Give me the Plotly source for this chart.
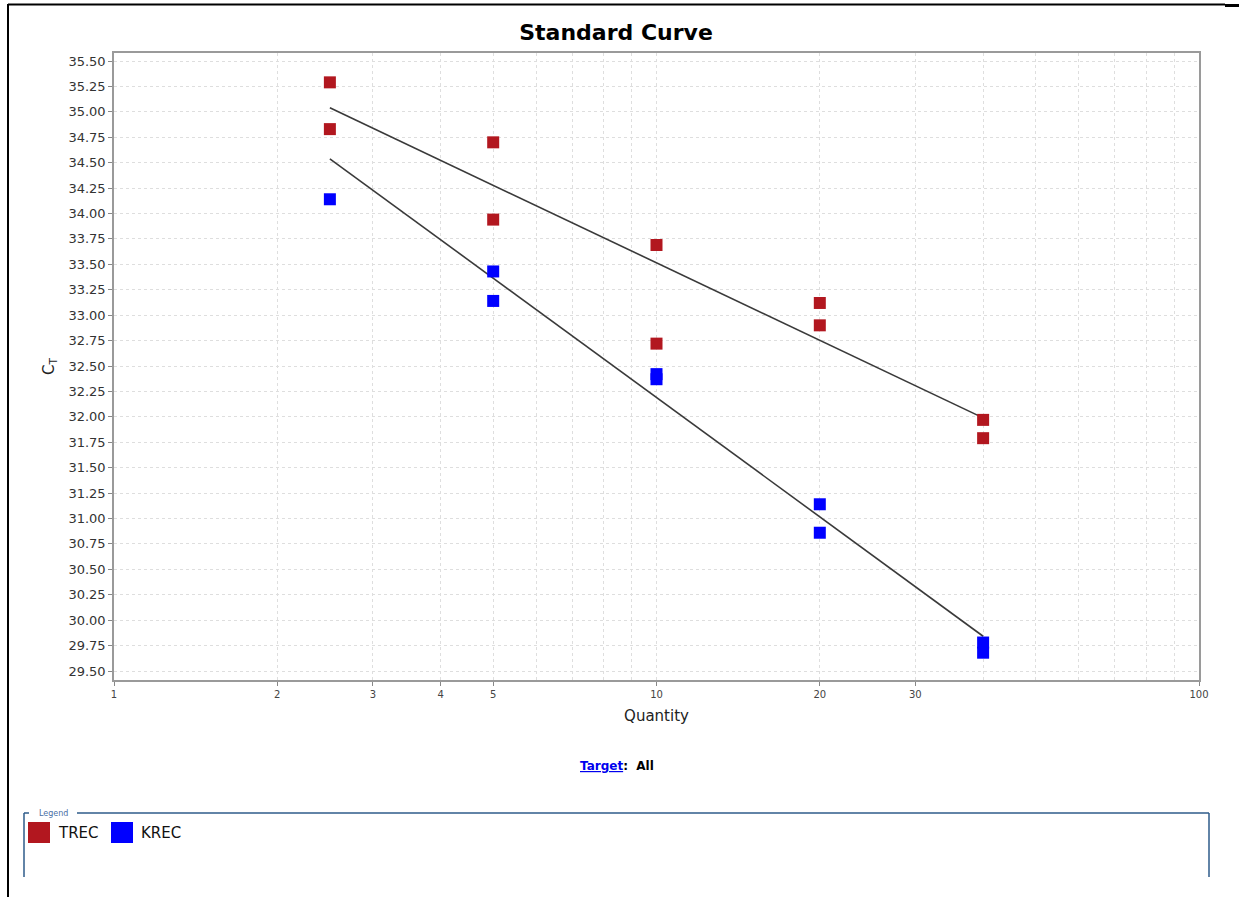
import numpy as np
import plotly.graph_objects as go

# ---- data ----
trec_quantity = [2.5, 2.5, 5, 5, 10, 10, 20, 20, 40, 40]
trec_ct = [35.29, 34.83, 34.70, 33.94, 33.69, 32.72, 33.12, 32.90, 31.97, 31.79]

krec_quantity = [2.5, 5, 5, 10, 10, 20, 20, 40, 40]
krec_ct = [34.14, 33.43, 33.14, 32.42, 32.37, 31.14, 30.86, 29.78, 29.68]

# standard-curve fits (Ct = slope*log10(Q) + intercept)
fit_quantity_range = [2.5, 40]
trec_slope, trec_intercept = -2.533, 36.048
krec_slope, krec_intercept = -3.90, 36.09

x_major_ticks = [1, 2, 3, 4, 5, 10, 20, 30, 100]
x_minor_ticks = [6, 7, 8, 9, 40, 50, 60, 70, 80, 90]
y_tick_values = [29.5 + 0.25 * i for i in range(25)]

series_names = ["TREC", "KREC"]

# ---- layout geometry (pixels) ----
W, H = 1239, 897
L, R, T, B = 114, 40, 53, 217
PW, PH = W - L - R, H - T - B


def px(xp):
    return (xp - L) / PW


def py(yp):
    return (H - B - yp) / PH


TREC_COLOR = "#b2171f"
KREC_COLOR = "#0000ff"
FONT = "DejaVu Sans, Verdana, sans-serif"

fig = go.Figure()

for slope, intercept in [(trec_slope, trec_intercept), (krec_slope, krec_intercept)]:
    fx = np.array(fit_quantity_range, dtype=float)
    fy = slope * np.log10(fx) + intercept
    fig.add_trace(go.Scatter(
        x=fx, y=fy, mode="lines", showlegend=False, hoverinfo="skip",
        line=dict(color="#3a3a3a", width=1.6),
    ))

fig.add_trace(go.Scatter(
    x=trec_quantity, y=trec_ct, mode="markers", name=series_names[0], showlegend=False,
    marker=dict(symbol="square", size=12, color=TREC_COLOR, line=dict(width=0)),
))
fig.add_trace(go.Scatter(
    x=krec_quantity, y=krec_ct, mode="markers", name=series_names[1], showlegend=False,
    marker=dict(symbol="square", size=12, color=KREC_COLOR, line=dict(width=0)),
))

grid_style = dict(showgrid=True, gridcolor="#dedede", griddash="3px,3px", gridwidth=1)

fig.update_layout(
    width=W, height=H,
    margin=dict(l=L, r=R, t=T, b=B, pad=0),
    paper_bgcolor="white", plot_bgcolor="white",
    font=dict(family=FONT, color="#222222"),
    showlegend=False,
    title=dict(
        text="<b>Standard Curve</b>", xref="container", x=616 / W, xanchor="center",
        yref="container", y=1 - 32 / H, yanchor="middle",
        font=dict(family=FONT, size=22, color="#000000"),
    ),
    xaxis=dict(
        type="log", range=[0, 2],
        tickmode="array", tickvals=x_major_ticks, ticktext=[str(v) for v in x_major_ticks],
        tickfont=dict(family=FONT, size=10, color="#444444"),
        ticks="outside", ticklen=4, tickcolor="#888888",
        minor=dict(tickmode="array", tickvals=x_minor_ticks, ticks="", **grid_style),
        showline=True, linecolor="#9a9a9a", linewidth=1.5, mirror=True,
        zeroline=False,
        title=dict(text="Quantity", standoff=12, font=dict(family=FONT, size=15, color="#222222")),
        **grid_style,
    ),
    yaxis=dict(
        range=[29.5 - 9 / 101.67, 35.5 + 8 / 101.67],
        tickmode="array", tickvals=y_tick_values, tickformat=".2f",
        tickfont=dict(family=FONT, size=13, color="#333333"),
        ticks="outside", ticklen=4, tickcolor="#888888",
        showline=True, linecolor="#9a9a9a", linewidth=1.5, mirror=True,
        zeroline=False,
        title=dict(text="C<sub>T</sub>", standoff=10, font=dict(family=FONT, size=15, color="#222222")),
        **grid_style,
    ),
)

# "Target: All" label
fig.add_annotation(
    xref="paper", yref="paper", x=px(578), y=py(766), xanchor="left", yanchor="middle",
    text="<b><span style='color:#0000ee'><u>Target</u></span>:&nbsp;&nbsp;All</b>",
    showarrow=False, font=dict(family=FONT, size=12, color="#000000"),
)

# Legend frame and entries
LEG_COLOR = "#2e5b8a"
shapes = [
    dict(type="line", xref="paper", yref="paper", x0=px(24), x1=px(29), y0=py(813), y1=py(813),
         line=dict(color=LEG_COLOR, width=1.5)),
    dict(type="line", xref="paper", yref="paper", x0=px(77), x1=px(1209), y0=py(813), y1=py(813),
         line=dict(color=LEG_COLOR, width=1.5)),
    dict(type="line", xref="paper", yref="paper", x0=px(24), x1=px(24), y0=py(813), y1=py(877),
         line=dict(color=LEG_COLOR, width=1.5)),
    dict(type="line", xref="paper", yref="paper", x0=px(1209), x1=px(1209), y0=py(813), y1=py(877),
         line=dict(color=LEG_COLOR, width=1.5)),
    # outer frame of the screenshot
    dict(type="line", xref="paper", yref="paper", x0=px(8), x1=px(1225), y0=py(4.5), y1=py(4.5),
         line=dict(color="#000000", width=2)),
    dict(type="line", xref="paper", yref="paper", x0=px(8), x1=px(8), y0=py(4), y1=py(897),
         line=dict(color="#000000", width=2)),
    dict(type="line", xref="paper", yref="paper", x0=px(1225), x1=px(1239), y0=py(5.5), y1=py(5.5),
         line=dict(color="#000000", width=3)),
]

legend_entries = [(series_names[0], TREC_COLOR, 28), (series_names[1], KREC_COLOR, 111)]
for name, color, x_left in legend_entries:
    shapes.append(dict(type="rect", xref="paper", yref="paper",
                       x0=px(x_left), x1=px(x_left + 22), y0=py(843), y1=py(822),
                       fillcolor=color, line=dict(width=0)))
    fig.add_annotation(
        xref="paper", yref="paper", x=px(x_left + 28), y=py(833), xanchor="left", yanchor="middle",
        text=name, showarrow=False, font=dict(family=FONT, size=15, color="#111111"),
    )

fig.update_layout(shapes=shapes)

fig.add_annotation(
    xref="paper", yref="paper", x=px(37), y=py(813), xanchor="left", yanchor="middle",
    text="Legend", showarrow=False,
    font=dict(family=FONT, size=8, color="#4a6fa5"),
    bgcolor="white",
)

fig.write_html("out.html", config={"displayModeBar": False},
               post_script="document.body.style.margin='0';")
